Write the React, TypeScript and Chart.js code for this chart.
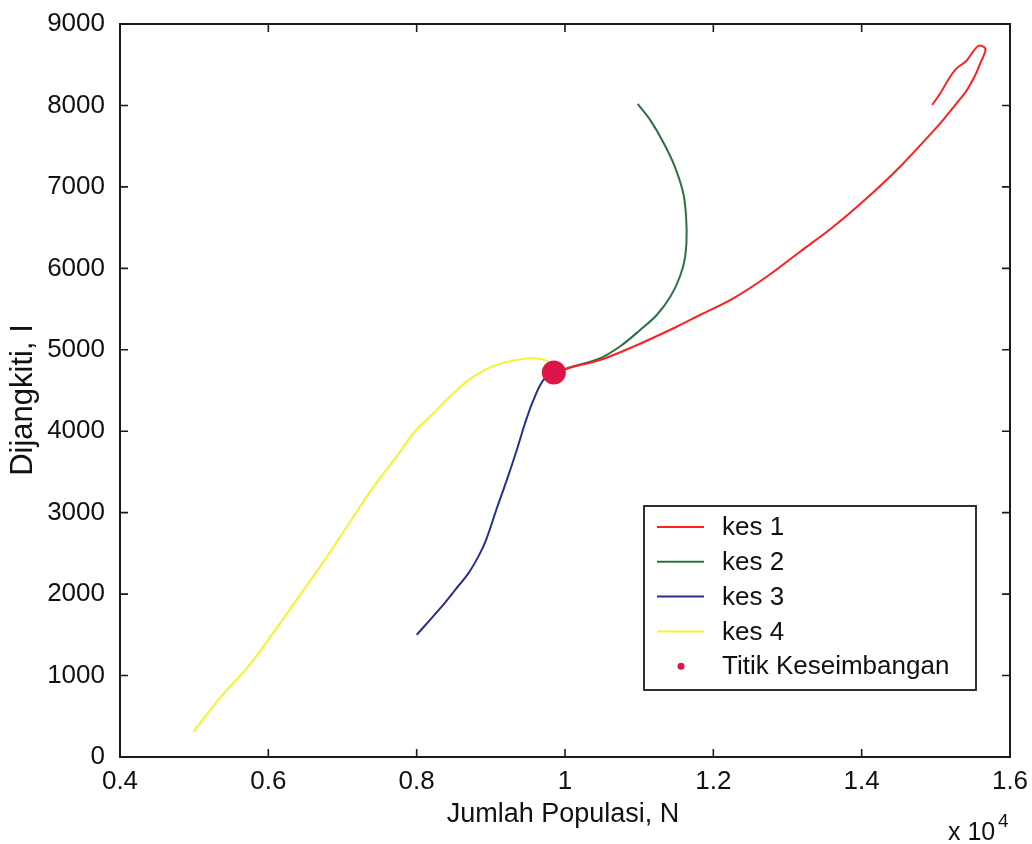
import React, { useEffect, useRef } from "react";
import { Chart, registerables } from "chart.js";

Chart.register(...registerables);

// ---- Data (N = population, I = infected) ----
const kes1N = [14950, 15060, 15190, 15280, 15410, 15485, 15570, 15640, 15670, 15600, 15530, 15420, 15280, 15150, 15020, 14517, 14067, 13618, 13168, 12719, 12269, 11820, 11506, 10921, 10472, 10150, 9850];
const kes1I = [8005, 8150, 8350, 8455, 8545, 8640, 8730, 8722, 8680, 8520, 8370, 8190, 8025, 7880, 7740, 7248, 6860, 6511, 6204, 5897, 5632, 5427, 5283, 5038, 4874, 4800, 4720];

const kes2N = [10980, 11150, 11330, 11480, 11600, 11640, 11620, 11550, 11420, 11240, 11010, 10740, 10470, 10070, 9850];
const kes2I = [8020, 7820, 7540, 7250, 6900, 6470, 6140, 5900, 5650, 5430, 5240, 5040, 4895, 4785, 4720];

const kes3N = [8000, 8337, 8517, 8697, 8831, 8935, 9088, 9215, 9350, 9460, 9575, 9710, 9850];
const kes3I = [1500, 1846, 2050, 2255, 2460, 2664, 3073, 3400, 3770, 4095, 4385, 4630, 4720];

const kes4N = [4990, 5350, 5710, 6070, 6380, 6700, 7060, 7420, 7730, 7955, 8225, 8495, 8765, 9080, 9530, 9760, 9830];
const kes4I = [310, 730, 1090, 1530, 1930, 2340, 2830, 3320, 3690, 3975, 4220, 4465, 4670, 4815, 4895, 4860, 4760];

const eqN = [9850];
const eqI = [4720];

const seriesLabels = ["kes 1", "kes 2", "kes 3", "kes 4", "Titik Keseimbangan"];
const seriesColors = ["#ff2020", "#2c7044", "#27308f", "#f4f42c", "#dc1448"];

const xTicks = [4000, 6000, 8000, 10000, 12000, 14000, 16000];
const xTickLabels = ["0.4", "0.6", "0.8", "1", "1.2", "1.4", "1.6"];
const yTicks = [0, 1000, 2000, 3000, 4000, 5000, 6000, 7000, 8000, 9000];
const yTickLabels = ["0", "1000", "2000", "3000", "4000", "5000", "6000", "7000", "8000", "9000"];

const xTitle = "Jumlah Populasi, N";
const yTitle = "Dijangkiti, I";
const expBase = "x 10";
const expPow = "4";

const FONT = '"Liberation Sans", Arial, sans-serif';

function zip(xs: number[], ys: number[]) {
  return xs.map((x, i) => ({ x, y: ys[i] }));
}

const decorPlugin = {
  id: "decor",
  afterDatasetsDraw(chart: any) {
    const { ctx, chartArea: a, scales } = chart;
    ctx.save();
    // frame
    ctx.strokeStyle = "#1a1a1a";
    ctx.lineWidth = 2;
    ctx.strokeRect(a.left, a.top, a.right - a.left, a.bottom - a.top);
    const L = 8;
    ctx.lineWidth = 1.6;
    ctx.beginPath();
    for (const v of xTicks) {
      const x = scales.x.getPixelForValue(v);
      ctx.moveTo(x, a.bottom);
      ctx.lineTo(x, a.bottom - L);
      ctx.moveTo(x, a.top);
      ctx.lineTo(x, a.top + L);
    }
    for (const v of yTicks) {
      const y = scales.y.getPixelForValue(v);
      ctx.moveTo(a.left, y);
      ctx.lineTo(a.left + L, y);
      ctx.moveTo(a.right, y);
      ctx.lineTo(a.right - L, y);
    }
    ctx.stroke();

    // legend
    const bx = a.left + 524;
    const by = a.top + 482;
    const bw = 332;
    const bh = 184;
    ctx.fillStyle = "#ffffff";
    ctx.fillRect(bx, by, bw, bh);
    ctx.strokeStyle = "#1a1a1a";
    ctx.lineWidth = 1.8;
    ctx.strokeRect(bx, by, bw, bh);
    ctx.font = `26px ${FONT}`;
    ctx.textBaseline = "middle";
    ctx.textAlign = "left";
    for (let i = 0; i < seriesLabels.length; i++) {
      const y = by + 21 + i * 34.8;
      if (i < 4) {
        ctx.strokeStyle = seriesColors[i];
        ctx.lineWidth = 2;
        ctx.beginPath();
        ctx.moveTo(bx + 13, y);
        ctx.lineTo(bx + 60, y);
        ctx.stroke();
      } else {
        ctx.fillStyle = seriesColors[i];
        ctx.beginPath();
        ctx.arc(bx + 37, y, 3.5, 0, Math.PI * 2);
        ctx.fill();
      }
      ctx.fillStyle = "#111111";
      ctx.fillText(seriesLabels[i], bx + 78, y + 1);
    }

    // axis titles
    ctx.fillStyle = "#111111";
    ctx.font = `27px ${FONT}`;
    ctx.textAlign = "center";
    ctx.textBaseline = "middle";
    ctx.fillText(xTitle, 563, 815);
    ctx.save();
    ctx.translate(23, 400);
    ctx.rotate(-Math.PI / 2);
    ctx.font = `31px ${FONT}`;
    ctx.fillText(yTitle, 0, 0);
    ctx.restore();
    // exponent
    ctx.textAlign = "left";
    ctx.textBaseline = "alphabetic";
    ctx.font = `25px ${FONT}`;
    ctx.fillText(expBase, 948, 840);
    ctx.font = `19px ${FONT}`;
    ctx.fillText(expPow, 998, 827);
    ctx.restore();
  },
};

const zeroPad = (s: any) => {
  s.paddingTop = 0;
  s.paddingBottom = 0;
  s.paddingLeft = 0;
  s.paddingRight = 0;
};

export default function App() {
  const ref = useRef<HTMLCanvasElement | null>(null);
  useEffect(() => {
    document.body.style.margin = "0";
    const canvas = ref.current;
    if (!canvas) return;
    const lineDs = (i: number, xs: number[], ys: number[]) => ({
      label: seriesLabels[i],
      data: zip(xs, ys),
      showLine: true,
      borderColor: seriesColors[i],
      backgroundColor: seriesColors[i],
      borderWidth: 2,
      pointRadius: 0,
      tension: 0.35,
      order: 1,
    });
    const chart = new Chart(canvas, {
      type: "scatter",
      data: {
        datasets: [
          lineDs(0, kes1N, kes1I),
          lineDs(1, kes2N, kes2I),
          lineDs(2, kes3N, kes3I),
          lineDs(3, kes4N, kes4I),
          {
            label: seriesLabels[4],
            data: zip(eqN, eqI),
            showLine: false,
            pointRadius: 12,
            pointBackgroundColor: seriesColors[4],
            pointBorderColor: seriesColors[4],
            pointBorderWidth: 0,
            order: 0,
          },
        ],
      },
      options: {
        responsive: false,
        animation: false,
        devicePixelRatio: 1,
        layout: { padding: { top: 24, right: 22, left: 0, bottom: 0 } },
        plugins: { legend: { display: false }, tooltip: { enabled: false } },
        scales: {
          x: {
            type: "linear",
            min: 4000,
            max: 16000,
            afterBuildTicks: (s: any) => {
              s.ticks = xTicks.map((v) => ({ value: v }));
            },
            afterFit: (s: any) => {
              s.height = 87;
              zeroPad(s);
            },
            grid: { display: false, drawTicks: false },
            border: { display: false },
            ticks: {
              padding: 9,
              color: "#111111",
              font: { family: FONT, size: 26 },
              callback: (v: any) => xTickLabels[xTicks.indexOf(Number(v))] ?? "",
              maxRotation: 0,
            },
          },
          y: {
            type: "linear",
            min: 0,
            max: 9000,
            afterBuildTicks: (s: any) => {
              s.ticks = yTicks.map((v) => ({ value: v }));
            },
            afterFit: (s: any) => {
              s.width = 120;
              zeroPad(s);
            },
            grid: { display: false, drawTicks: false },
            border: { display: false },
            ticks: {
              padding: 15,
              color: "#111111",
              font: { family: FONT, size: 26 },
              callback: (v: any) => yTickLabels[yTicks.indexOf(Number(v))] ?? "",
            },
          },
        },
      },
      plugins: [decorPlugin],
    } as any);
    return () => chart.destroy();
  }, []);
  return (
    <div style={{ position: "absolute", left: 0, top: 0, width: 1032, height: 844, background: "#fff" }}>
      <canvas ref={ref} width={1032} height={844} />
    </div>
  );
}
